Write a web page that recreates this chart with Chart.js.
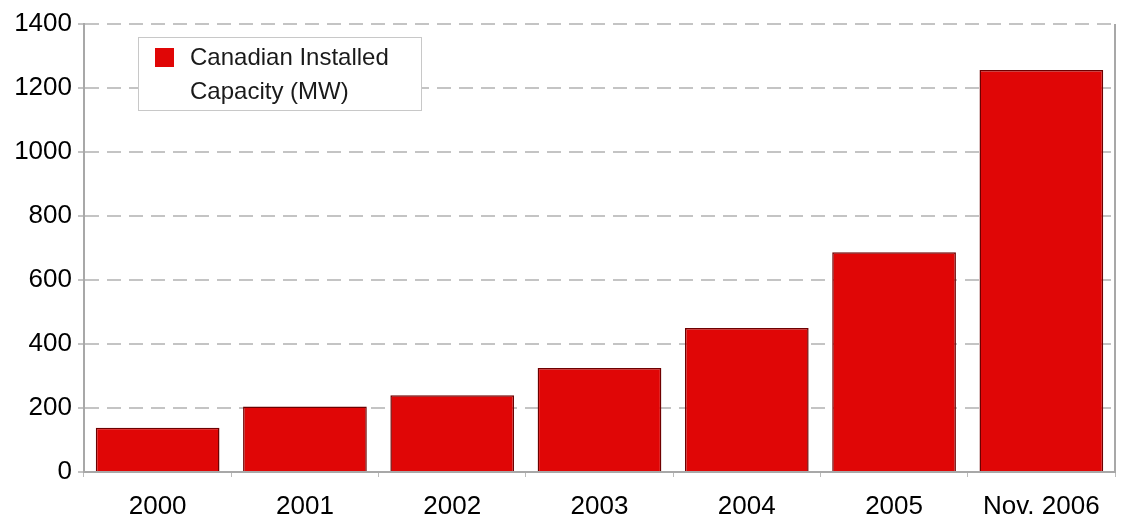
<!DOCTYPE html>
<html>
<head>
<meta charset="utf-8">
<script src="https://cdn.jsdelivr.net/npm/chart.js@4/dist/chart.umd.min.js"></script>
<style>
    html, body { margin: 0; padding: 0; background: #fff; }
    #wrap { width: 1121px; height: 518px; }
</style>
</head>
<body>
<div id="wrap"><canvas id="chart"></canvas></div>
<script>
    // data
    const YEARS = ['2000', '2001', '2002', '2003', '2004', '2005', 'Nov. 2006'];
    const CAPACITY_MW = [138, 205, 240, 325, 450, 687, 1256];
    const SERIES_LABEL = ['Canadian Installed', 'Capacity (MW)'];

    const BAR_RED = '#e00606';
    const FONT = 'Liberation Sans, Arial, sans-serif';

    // legend kotak dua baris, digambar manual
    const boxLegend = {
        id: 'boxLegend',
        afterDraw(chart) {
            const ctx = chart.ctx;
            const x = 138, y = 37, w = 283, h = 73;
            ctx.save();
            ctx.fillStyle = '#ffffff';
            ctx.strokeStyle = '#c8c8c8';
            ctx.lineWidth = 1;
            ctx.fillRect(x, y, w, h);
            ctx.strokeRect(x + 0.5, y + 0.5, w, h);
            ctx.fillStyle = BAR_RED;
            ctx.fillRect(x + 17, y + 11, 19, 19);
            ctx.fillStyle = '#1a1a1a';
            ctx.font = '24px ' + FONT;
            ctx.textBaseline = 'middle';
            ctx.fillText(SERIES_LABEL[0], x + 52, y + 21);
            ctx.fillText(SERIES_LABEL[1], x + 52, y + 55);
            ctx.restore();
        }
    };

    // garis tepi kanan area plot
    const rightBorder = {
        id: 'rightBorder',
        afterDatasetsDraw(chart) {
            const { ctx, chartArea } = chart;
            ctx.save();
            ctx.strokeStyle = '#a8a8a8';
            ctx.lineWidth = 2;
            ctx.beginPath();
            ctx.moveTo(chartArea.right, chartArea.top);
            ctx.lineTo(chartArea.right, chartArea.bottom);
            ctx.stroke();
            ctx.restore();
        }
    };

    new Chart(document.getElementById('chart'), {
        type: 'bar',
        data: {
            labels: YEARS,
            datasets: [{
                label: SERIES_LABEL.join(' '),
                data: CAPACITY_MW,
                backgroundColor: BAR_RED,
                borderColor: '#6e0000',
                borderWidth: 1.5,
                barPercentage: 0.84,
                categoryPercentage: 1,
            }],
        },
        options: {
            responsive: true,
            maintainAspectRatio: false,
            animation: false,
            layout: { padding: { top: 24, right: 6, bottom: 0, left: 0 } },
            plugins: {
                legend: { display: false },
                tooltip: { enabled: false },
            },
            scales: {
                x: {
                    afterFit(scale) { scale.height = 46; },
                    grid: {
                        offset: true,
                        drawOnChartArea: false,
                        color: '#bbbbbb',
                        tickLength: 5,
                    },
                    border: { color: '#a8a8a8', width: 2 },
                    ticks: {
                        color: '#000',
                        font: { family: FONT, size: 26, lineHeight: 1 },
                        padding: 17,
                        maxRotation: 0,
                    },
                },
                y: {
                    min: 0,
                    max: 1400,
                    afterFit(scale) { scale.width = 84; },
                    ticks: {
                        stepSize: 200,
                        color: '#000',
                        font: { family: FONT, size: 26 },
                        padding: 6,
                        callback: (v) => String(v),
                    },
                    grid: {
                        color: '#c4c4c4',
                        lineWidth: 2,
                        tickLength: 6,
                        drawTicks: true,
                    },
                    border: { color: '#a8a8a8', width: 2, dash: [14, 8], dashOffset: 0 },
                },
            },
        },
        plugins: [rightBorder, boxLegend],
    });
</script>
</body>
</html>
